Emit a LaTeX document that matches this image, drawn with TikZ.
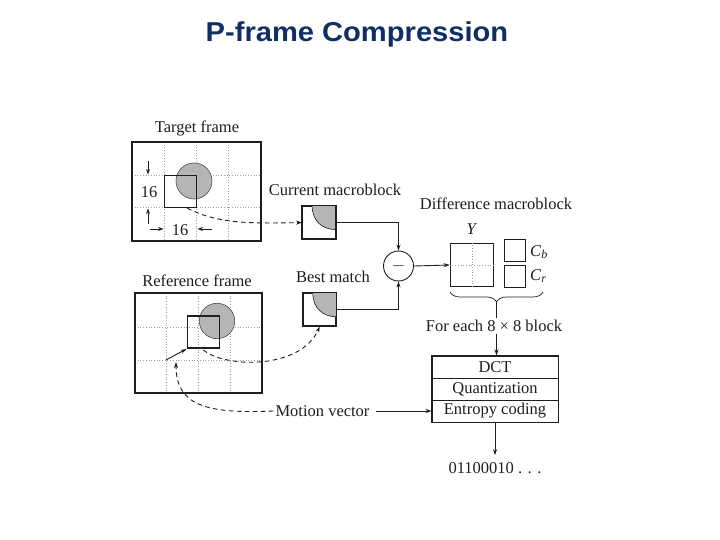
\documentclass[tikz,border=0pt]{standalone}
\usepackage{fontspec}
\setmainfont{Liberation Serif}
\newfontfamily\titlefont{Liberation Sans}
\usetikzlibrary{arrows.meta,calc,decorations.pathreplacing}
\definecolor{ink}{HTML}{1E1E1E}
\definecolor{navy}{HTML}{0F2E63}
\definecolor{blobgray}{HTML}{B5B5B5}
\begin{document}
\begin{tikzpicture}[x=1pt,y=-1pt,
  frame/.style={draw=ink, line width=1.1pt},
  gridl/.style={draw=gray!75, dotted, line width=0.7pt},
  sqbox/.style={draw=ink, line width=1.5pt, minimum size=32pt, inner sep=0pt},
  blob/.style={fill=blobgray, draw=gray!60!black, line width=0.6pt},
  conn/.style={draw=ink, line width=0.9pt, -{Stealth[length=6pt,width=4pt]}},
  dconn/.style={conn, dash pattern=on 4.5pt off 3.5pt},
  lbl/.style={font=\fontsize{16.5}{19}\selectfont, text=ink, inner sep=2pt},
  mbox/.style={draw=ink, line width=1.3pt, minimum size=32.5pt, inner sep=0pt},
  dimarrow/.style={draw=ink, line width=0.8pt, -{Stealth[length=5.5pt,width=4pt]}},
  stage/.style={lbl, draw=ink, line width=1pt, minimum width=126pt, minimum height=22pt, inner sep=0pt}
]
\useasboundingbox (0,0) rectangle (720,540);
\fill[white] (0,0) rectangle (720,540);

% title
\node[font=\titlefont\bfseries\fontsize{26}{30}\selectfont, text=navy, anchor=base, inner sep=0pt] (title) at (357,42) {\scalebox{1.12}[1.05]{P-frame Compression}};

% ---------- target frame ----------
\node[lbl] (tlab) at (197,128) {Target frame};
\draw[gridl] (164,142) -- (164,241) (196.5,142) -- (196.5,241) (228.5,142) -- (228.5,241)
             (132,175.5) -- (261,175.5) (132,207.5) -- (261,207.5);
\draw[frame] (132,142) rectangle (261,241);
\fill[blob] (194,181) circle (18pt);
\node[sqbox] (tsq) at (180.3,191.5) {};
\draw[dimarrow] (148,161) -- (148,174.5);
\draw[dimarrow] (148,224) -- (148,208.5);
\node[lbl] (t16a) at (149,192) {16};
\draw[dimarrow] (150,229) -- (163.5,229);
\draw[dimarrow] (212,229) -- (197.5,229);
\node[lbl] (t16b) at (180,230) {16};

% ---------- reference frame ----------
\node[lbl] (rlab) at (197,281) {Reference frame};
\draw[gridl] (166,293) -- (166,393) (198,293) -- (198,393) (230,293) -- (230,393)
             (135,327) -- (262,327) (135,360) -- (262,360);
\draw[frame] (135,293) rectangle (262,393);
\fill[blob] (217,321) circle (17.7pt);
\node[sqbox] (rsq) at (203.3,332.2) {};
\coordinate (gp) at (166,360);
\coordinate (mvtip) at (176,362);
\draw[conn] (gp) -- (rsq.south west);

% ---------- macroblocks ----------
\node[lbl] (curlab) at (335,190) {Current macroblock};
\node[mbox] (cur) at (319,222.5) {};
\fill[blobgray] ($(cur.north west)+(10,0)$) .. controls ($(cur.north west)+(10,16)$) and ($(cur.north east)+(-13,24)$) .. ($(cur.north east)+(0,24)$) -- (cur.north east) -- cycle;
\draw[ink, line width=0.6pt] ($(cur.north west)+(10,0)$) .. controls ($(cur.north west)+(10,16)$) and ($(cur.north east)+(-13,24)$) .. ($(cur.north east)+(0,24)$);
\draw[ink, line width=1.3pt] (cur.north west) rectangle (cur.south east);

\node[lbl] (bestlab) at (333,277) {Best match};
\node[mbox] (best) at (319.7,309.7) {};
\fill[blobgray] ($(best.north west)+(10,0)$) .. controls ($(best.north west)+(10,16)$) and ($(best.north east)+(-13,24)$) .. ($(best.north east)+(0,24)$) -- (best.north east) -- cycle;
\draw[ink, line width=0.6pt] ($(best.north west)+(10,0)$) .. controls ($(best.north west)+(10,16)$) and ($(best.north east)+(-13,24)$) .. ($(best.north east)+(0,24)$);
\draw[ink, line width=1.3pt] (best.north west) rectangle (best.south east);

\draw[dconn] ($(tsq.south)+(7,0)$) .. controls (215,222) and (240,224) .. (cur.west);
\draw[dconn] ($(rsq.south)+(0,1)$) .. controls (225,368) and (300,370) .. (best.south);

% ---------- subtraction ----------
\node[lbl, draw=ink, circle, line width=0.9pt, minimum size=30pt, inner sep=0pt] (minus) at (398.5,266) {$-$};
\draw[conn] (cur.east) -| (minus.north);
\draw[conn] (best.east) -| (minus.south);

% ---------- difference macroblock ----------
\node[lbl] (difflab) at (496,204) {Difference macroblock};
\node[lbl] (ylab) at (472,229) {\textit{Y}};
\node[draw=ink, line width=1.1pt, minimum size=43.5pt, inner sep=0pt] (Y) at (472,265) {};
\draw[gridl] (Y.north) -- (Y.south) (Y.west) -- (Y.east);
\node[draw=ink, line width=1.1pt, minimum size=21.5pt, inner sep=0pt] (cb) at (515,250.5) {};
\node[draw=ink, line width=1.1pt, minimum size=21.5pt, inner sep=0pt] (cr) at (515,276.5) {};
\node[lbl, anchor=west] (cblab) at (528,252) {\textit{C}\raisebox{-0.35ex}{\fontsize{12}{14}\selectfont\textit{b}}};
\node[lbl, anchor=west] (crlab) at (528,276) {\textit{C}\raisebox{-0.35ex}{\fontsize{12}{14}\selectfont\textit{r}}};
\draw[conn] (minus.east) -- (Y.west);

\draw[ink, line width=0.7pt, decorate, decoration={brace, mirror, amplitude=10pt}] (450,292) -- (543,292);
\coordinate (btip) at (496.5,302);
\node[lbl] (each) at (494,326) {For each 8 × 8 block};
\draw[ink, line width=0.7pt] (btip) -- (each.north -| btip);

% ---------- coding stages ----------
\node[stage] (dct) at (495,367) {DCT};
\node[stage] (quant) at (495,389) {Quantization};
\node[stage] (ent) at (495,411) {Entropy coding};
\draw[ink, line width=1.2pt] (dct.north west) rectangle (ent.south east);
\draw[conn] (each.south -| btip) -- (dct.north -| btip);

\node[lbl] (bits) at (495,468) {01100010 . . .};
\draw[conn, shorten >=5pt] (ent.south) -- (bits.north);

\node[lbl] (mv) at (322.5,411) {Motion vector};
\draw[conn, shorten <=4pt] (mv.east) -- (ent.west);
\draw[dconn] (mv.west) .. controls (205,414) and (176,405) .. (mvtip);
\end{tikzpicture}
\end{document}
